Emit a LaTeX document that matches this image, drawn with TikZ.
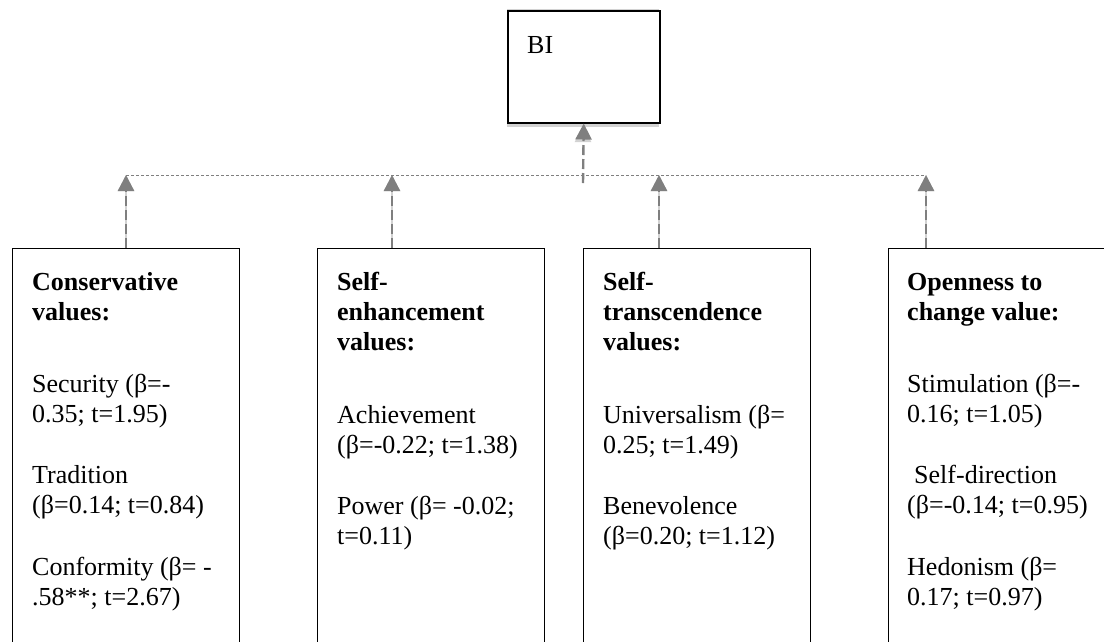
\documentclass[tikz,border=0pt]{standalone}
\usepackage{fontspec}
\setmainfont{Liberation Serif}
\usetikzlibrary{arrows.meta}
\definecolor{arrowgray}{HTML}{7F7F7F}
\definecolor{shadegray}{HTML}{D2D2D2}
\begin{document}
\begin{tikzpicture}[x=1pt,y=-1pt,
  valuebox/.style={draw=black,line width=1.3pt,fill=white,inner sep=0pt,
    minimum width=227pt,minimum height=430pt,anchor=north west},
  topbox/.style={draw=black,line width=1.5pt,fill=white,inner sep=0pt,
    minimum width=152pt,minimum height=112pt,anchor=north west},
  linetext/.style={anchor=base west,inner sep=0pt,font=\fontsize{26}{30}\selectfont},
  headtext/.style={anchor=base west,inner sep=0pt,font=\fontsize{26}{30}\selectfont\bfseries},
  link/.style={draw=arrowgray,line width=2.4pt,dash pattern=on 10pt off 4pt,
    -{Triangle[length=16pt,width=16pt]}},
  linkshade/.style={link,draw=shadegray,yshift=-4pt},
  rail/.style={draw=arrowgray,line width=1pt,dash pattern=on 3pt off 2pt},
  railshade/.style={rail,draw=shadegray,yshift=-4pt}]
\useasboundingbox (0,0) rectangle (1104,641);
\clip (0,0) rectangle (1104,641);

% junction points on the rail
\coordinate (t1) at (126,175);
\coordinate (t2) at (392,175);
\coordinate (t3) at (659,175);
\coordinate (t4) at (926,175);
\coordinate (hb) at (583,183);

% outcome box with its soft shadow
\fill[shadegray] (507,9) rectangle (659,127);
\node[topbox] (bi) at (507,10) {};
\node[linetext] (bilabel) at (527,53) {BI};

% shadows of the rail and arrows
\draw[railshade] (t1) -- (t4);
\draw[linkshade] (126,248) -- (t1);
\draw[linkshade] (392,248) -- (t2);
\draw[linkshade] (659,248) -- (t3);
\draw[linkshade] (926,248) -- (t4);
\draw[linkshade] (hb) -- (583,122);

% value boxes
\node[valuebox] (b1) at (12,248) {};
\node[valuebox] (b2) at (317,248) {};
\node[valuebox] (b3) at (583,248) {};
\node[valuebox] (b4) at (888,248) {};

% rail and arrows
\draw[rail] (t1) -- (t4);
\draw[link] ([xshift=114pt]b1.north west) -- (t1);
\draw[link] ([xshift=75pt]b2.north west) -- (t2);
\draw[link] ([xshift=76pt]b3.north west) -- (t3);
\draw[link] ([xshift=38pt]b4.north west) -- (t4);
\draw[link] (hb) -- (bi.south);

% Conservative values
\node[headtext] (h1a) at (32,290) {Conservative};
\node[headtext] (h1b) at (32,320) {values:};
\foreach \yy/\txt in {392/{Security (β=-},422/{0.35; t=1.95)},483/{Tradition},
    513/{(β=0.14; t=0.84)},575/{Conformity (β= -},605/{.58**; t=2.67)}}
  \node[linetext] (c1-\yy) at (32,\yy) {\txt};

% Self-enhancement values
\node[headtext] (h2a) at (337,290) {Self-};
\node[headtext] (h2b) at (337,320) {enhancement};
\node[headtext] (h2c) at (337,350) {values:};
\foreach \yy/\txt in {423/{Achievement},453/{(β=-0.22; t=1.38)},
    514/{Power (β= -0.02;},544/{t=0.11)}}
  \node[linetext] (c2-\yy) at (337,\yy) {\txt};

% Self-transcendence values
\node[headtext] (h3a) at (603,290) {Self-};
\node[headtext] (h3b) at (603,320) {transcendence};
\node[headtext] (h3c) at (603,350) {values:};
\foreach \yy/\txt in {423/{Universalism (β=},453/{0.25; t=1.49)},
    514/{Benevolence},544/{(β=0.20; t=1.12)}}
  \node[linetext] (c3-\yy) at (603,\yy) {\txt};

% Openness to change value
\node[headtext] (h4a) at (907,290) {Openness to};
\node[headtext] (h4b) at (907,320) {change value:};
\foreach \yy/\txt in {392/{Stimulation (β=-},422/{0.16; t=1.05)},
    513/{(β=-0.14; t=0.95)},575/{Hedonism (β=},605/{0.17; t=0.97)}}
  \node[linetext] (c4-\yy) at (907,\yy) {\txt};
\node[linetext] (c4-483) at (914,483) {Self-direction};
\end{tikzpicture}
\end{document}
